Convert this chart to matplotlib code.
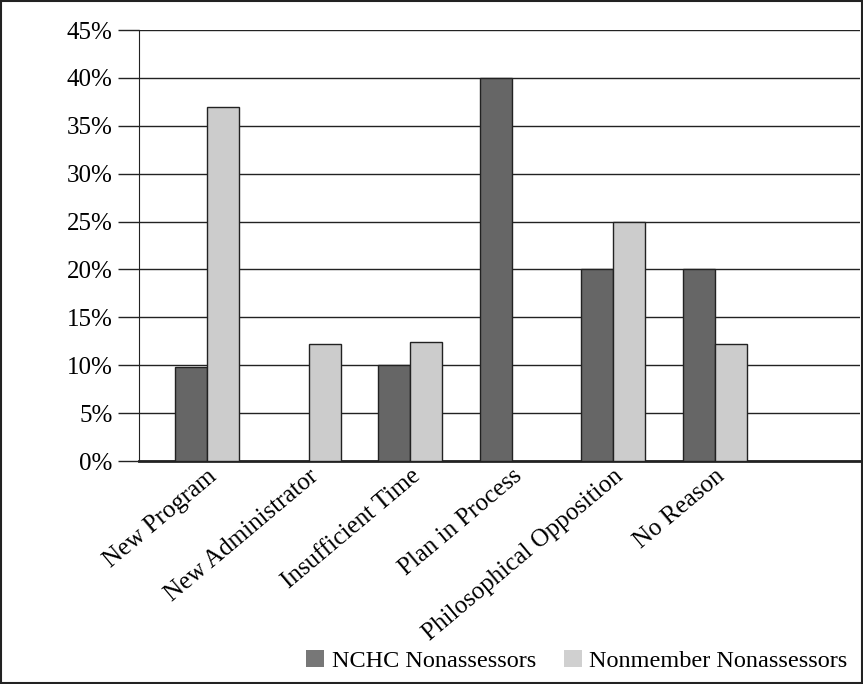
"""Reasons for not assessing: NCHC vs nonmember nonassessors."""

import numpy as np
import matplotlib
matplotlib.use("Agg")
import matplotlib.pyplot as plt
from matplotlib.patches import Patch, Rectangle
from matplotlib.ticker import FuncFormatter

CATEGORIES = [
    "New Program",
    "New Administrator",
    "Insufficient Time",
    "Plan in Process",
    "Philosophical Opposition",
    "No Reason",
]
NCHC = [9.8, 0.0, 10.0, 40.0, 20.0, 20.0]
NONMEMBER = [37.0, 12.2, 12.4, 0.0, 25.0, 12.2]
SERIES_LABELS = ["NCHC Nonassessors", "Nonmember Nonassessors"]

DARK = "#666666"
LIGHT = "#cccccc"
FONT = "Liberation Serif"

plt.rcParams["font.family"] = [FONT, "DejaVu Serif"]

fig = plt.figure(figsize=(8.63, 6.84), dpi=100)
ax = fig.add_axes([0.161, 0.326, 0.836, 0.630])

x = np.arange(len(CATEGORIES))
width = 0.315
for vals, color, off in ((NCHC, DARK, -0.5), (NONMEMBER, LIGHT, 0.5)):
    heights = np.array(vals)
    mask = heights > 0
    ax.bar(x[mask] + off * width, heights[mask], width, color=color,
           edgecolor="#222222", linewidth=1.0, zorder=3)

ax.set_xlim(-0.67, 6.43)
ax.set_ylim(0, 45)
ax.set_yticks(np.arange(0, 46, 5))
ax.yaxis.set_major_formatter(FuncFormatter(lambda v, _: f"{v:.0f}%"))
ax.grid(True, axis="y", color="#222222", linewidth=1.0, zorder=0)
ax.tick_params(axis="y", length=15, width=1.0, color="#222222",
               labelsize=18, pad=4)
ax.tick_params(axis="x", length=0, labelsize=18, pad=3)
ax.set_xticks(x)
ax.set_xticklabels(CATEGORIES, rotation=40, ha="right",
                   rotation_mode="anchor")
for side in ("top", "right"):
    ax.spines[side].set_visible(False)
ax.spines["left"].set_color("#222222")
ax.spines["bottom"].set_color("#222222")
ax.spines["bottom"].set_linewidth(2.0)

handles = [Patch(facecolor="#777777", edgecolor="none"),
           Patch(facecolor="#d0d0d0", edgecolor="none")]
fig.legend(handles, SERIES_LABELS, loc="center right",
           bbox_to_anchor=(847 / 863, 23 / 684), ncol=2, frameon=False,
           fontsize=17.5, handlelength=0.74, handleheight=0.74,
           handletextpad=0.29, columnspacing=1.15,
           borderpad=0, borderaxespad=0)

fig.patches.append(Rectangle((0.001, 0.001), 0.998, 0.998,
                             transform=fig.transFigure, fill=False,
                             edgecolor="#222222", linewidth=1.5))

fig.savefig("out.png", dpi=100)
